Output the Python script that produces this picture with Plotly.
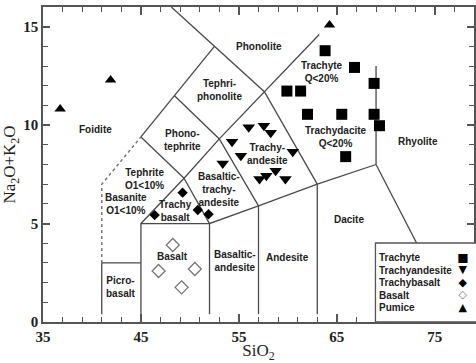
import plotly.graph_objects as go

# ---------------- data ----------------
trachyte_sio2 = [63.8, 66.8, 68.8, 59.9, 61.3, 62.0, 65.5, 68.8, 69.35, 65.9]
trachyte_alk = [13.78, 12.93, 12.12, 11.73, 11.73, 10.55, 10.55, 10.55, 9.97, 8.40]

trachyandesite_sio2 = [56.0, 57.55, 58.25, 54.3, 55.2, 60.5, 53.35, 58.75, 57.8, 57.1, 59.75]
trachyandesite_alk = [9.89, 9.97, 9.61, 9.16, 8.45, 8.65, 8.05, 7.68, 7.43, 7.26, 7.26]

trachybasalt_sio2 = [49.25, 46.4, 50.8, 51.9]
trachybasalt_alk = [6.57, 5.43, 5.69, 5.47]

basalt_sio2 = [48.25, 46.8, 50.5, 49.15]
basalt_alk = [3.91, 2.59, 2.69, 1.76]

pumice_sio2 = [36.75, 41.9, 64.25]
pumice_alk = [10.82, 12.29, 15.08]

series_names = ["Trachyte", "Trachyandesite", "Trachybasalt", "Basalt", "Pumice"]
legend_glyphs = ["■", "▼", "◆", "◇", "▲"]

# TAS field boundaries (SiO2, Na2O+K2O)
solid_boundaries = [
    ([41, 41, 45], [0.4, 3, 3]),
    ([45, 45, 52], [0.4, 5, 5]),
    ([52, 52, 57, 63, 69], [0.4, 5, 5.9, 7, 8]),
    ([57, 57], [0.4, 5.9]),
    ([63, 63], [0.4, 7]),
    ([69, 77.3], [8, 0]),
    ([69, 69], [8, 13]),
    ([45, 49.4, 53, 57.6, 63.2], [5, 7.3, 9.3, 11.7, 14.6]),
    ([49.4, 52], [7.3, 5]),
    ([45, 48.4, 52.5], [9.4, 11.5, 14]),
    ([45, 49.4], [9.4, 7.3]),
    ([48.4, 53, 57], [11.5, 9.3, 5.9]),
    ([48.1, 52.5, 57.6, 63], [16, 14, 11.7, 7]),
]
dotted_boundaries = [
    ([41, 41, 45], [3, 7, 9.4]),
]

field_labels = [
    ("Foidite", 40.4, 9.8),
    ("Phonolite", 57.05, 13.97),
    ("Tephri-<br>phonolite", 53.06, 11.76),
    ("Phono-<br>tephrite", 49.26, 9.27),
    ("Trachy-<br>andesite", 57.9, 8.53),
    ("Basaltic-<br>trachy-<br>andesite", 53.0, 6.73),
    ("Trachy<br>basalt", 48.5, 5.64),
    ("Tephrite<br>O1<10%", 45.4, 7.26),
    ("Basanite<br>O1<10%", 43.5, 6.0),
    ("Picro-<br>basalt", 42.96, 1.8),
    ("Basalt", 48.24, 3.32),
    ("Basaltic-<br>andesite", 54.58, 3.12),
    ("Andesite", 59.93, 3.29),
    ("Dacite", 66.2, 5.23),
    ("Trachyte<br>Q<20%", 63.49, 12.71),
    ("Trachydacite<br>Q<20%", 64.9, 9.4),
    ("Rhyolite", 73.3, 9.16),
]

# ---------------- figure ----------------
fig = go.Figure()
line_col = "#4a4a4a"
for xs, ys in solid_boundaries:
    fig.add_trace(go.Scatter(x=xs, y=ys, mode="lines", showlegend=False, hoverinfo="skip",
                             line=dict(color=line_col, width=1.3)))
for xs, ys in dotted_boundaries:
    fig.add_trace(go.Scatter(x=xs, y=ys, mode="lines", showlegend=False, hoverinfo="skip",
                             line=dict(color="#777777", width=1.5, dash="dot")))

fig.add_trace(go.Scatter(x=trachyte_sio2, y=trachyte_alk, mode="markers", name=series_names[0],
                         marker=dict(symbol="square", size=11, color="black")))
fig.add_trace(go.Scatter(x=trachyandesite_sio2, y=trachyandesite_alk, mode="markers", name=series_names[1],
                         marker=dict(symbol="triangle-down", size=11, color="black")))
fig.add_trace(go.Scatter(x=trachybasalt_sio2, y=trachybasalt_alk, mode="markers", name=series_names[2],
                         marker=dict(symbol="diamond", size=8, color="black")))
fig.add_trace(go.Scatter(x=basalt_sio2, y=basalt_alk, mode="markers", name=series_names[3],
                         marker=dict(symbol="diamond-open", size=10, color="#777777",
                                     line=dict(width=1.3))))
fig.add_trace(go.Scatter(x=pumice_sio2, y=pumice_alk, mode="markers", name=series_names[4],
                         marker=dict(symbol="triangle-up", size=10, color="black")))

for text, x, y in field_labels:
    fig.add_annotation(x=x, y=y, text=text, showarrow=False, align="center",
                       font=dict(family="Liberation Sans", size=10, color="#222222", weight="bold"))

# legend box in the lower-right corner: names on the left, symbols on the right
plot_l, plot_w, plot_b, plot_h = 43, 433, 322, 315
def px_x(p):
    return (p - plot_l) / plot_w
def px_y(p):
    return (plot_b - p) / plot_h

fig.add_shape(type="rect", xref="paper", yref="paper", x0=px_x(377), x1=1.02, y0=0, y1=px_y(243),
              line=dict(color="#555555", width=1.3), fillcolor="white", layer="above")
glyph_colors = ["black", "black", "black", "#777777", "black"]
glyph_sizes = [12, 11, 11, 11, 11]
for i, (name, glyph) in enumerate(zip(series_names, legend_glyphs)):
    yy = px_y(257 + 12.5 * i)
    fig.add_annotation(xref="paper", yref="paper", x=px_x(379), y=yy, xanchor="left", yanchor="middle",
                       text=name, showarrow=False, height=12,
                       font=dict(family="Liberation Sans", size=10, color="#222222", weight="bold"))
    fig.add_annotation(xref="paper", yref="paper", x=px_x(465), y=yy, xanchor="center", yanchor="middle",
                       text=glyph, showarrow=False, height=11, width=12, borderpad=0,
                       font=dict(family="DejaVu Sans", size=glyph_sizes[i], color=glyph_colors[i]))

axis_common = dict(showline=True, linecolor="#555555", linewidth=1.5, mirror="ticks",
                   ticks="inside", tickcolor="#555555", showgrid=False, zeroline=False,
                   tickfont=dict(family="Liberation Serif", size=15, color="#222222", weight="bold"))
fig.update_xaxes(range=[35, 79], tick0=35, dtick=10, ticklen=8, tickwidth=1.5,
                 minor=dict(dtick=2, tick0=35, ticks="inside", ticklen=5, tickcolor="#555555", tickwidth=1.3),
                 title=dict(text="SiO<sub>2</sub>", font=dict(family="Liberation Serif", size=17, color="#222222"),
                            standoff=2),
                 **axis_common)
fig.update_yaxes(range=[0, 16], tick0=0, dtick=5, ticklen=7, tickwidth=1.5,
                 minor=dict(dtick=1, tick0=0, ticks="inside", ticklen=5, tickcolor="#555555", tickwidth=1.3),
                 title=dict(text="Na<sub>2</sub>O+K<sub>2</sub>O", font=dict(family="Liberation Serif", size=17, color="#222222"),
                            standoff=4),
                 **axis_common)

fig.update_layout(
    width=476, height=363,
    margin=dict(l=43, r=0, t=7, b=41),
    plot_bgcolor="white", paper_bgcolor="white",
    showlegend=False,
)

fig.write_html("out.html")
